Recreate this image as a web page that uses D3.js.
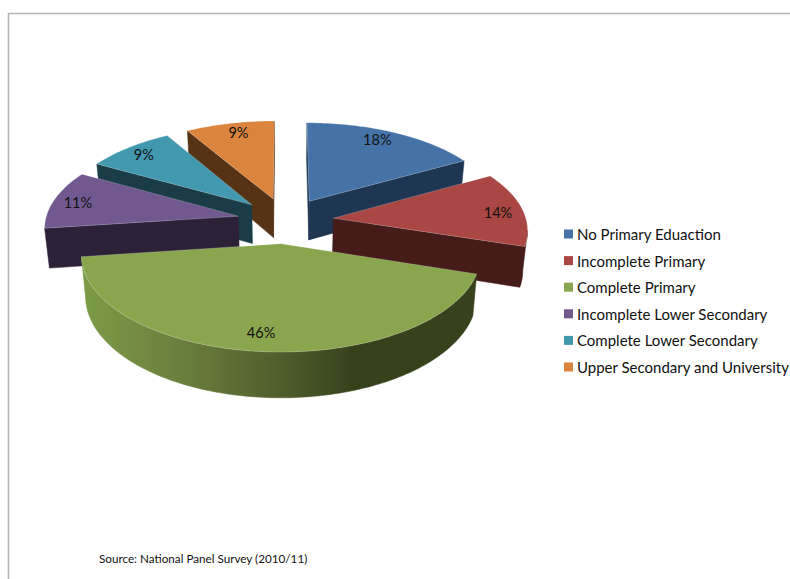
<!DOCTYPE html>
<html>
<head>
<meta charset="utf-8">
<script src="https://cdn.jsdelivr.net/npm/d3@7"></script>
<style>
  html, body { margin: 0; padding: 0; background: #fff; }
  svg { display: block; }
  text { font-family: Lato, "Open Sans", sans-serif; fill: #111; }
</style>
</head>
<body>
<svg id="chart" width="790" height="579"></svg>
<script>
// Survey shares by highest level of education reached
const categories = [
  "No Primary Eduaction",
  "Incomplete Primary",
  "Complete Primary",
  "Incomplete Lower Secondary",
  "Complete Lower Secondary",
  "Upper Secondary and University"
];
const shares = [18, 14, 46, 11, 9, 9];
const topColors = ["#4572a7", "#aa4643", "#89a54e", "#71588f", "#4198af", "#db843d"];
const sideColors = ["#1f3652", "#451c1a", "#38431d", "#2c2137", "#1a3c46", "#573316"];
const sourceNote = "Source: National Panel Survey (2010/11)";

const svg = d3.select("#chart");

// Frame along the top and left of the chart area
svg.append("path")
  .attr("d", "M8.5,579V13.5H790")
  .attr("fill", "none")
  .attr("stroke", "#b4b4b4")
  .attr("stroke-width", 1.6);

// Perspective projection of the tilted pie plane; lower edges narrow slightly toward the centre
const cx = 285.5, cy = 220.5, radiusX = 193, radiusY = 91, perspective = 0.109;
const thickness = 39.5, floorNarrowing = 0.98, explode = 0.25, labelRadius = 0.86;
const scaleAt = v => 1 / (1 + perspective * v);
const project = (u, v) => {
  const s = scaleAt(v);
  return [cx + radiusX * u * s, cy - radiusY * v * s];
};
const projectFloor = (u, v) => {
  const [x, y] = project(u, v);
  return [cx + (x - cx) * floorNarrowing, y + thickness * scaleAt(v)];
};

// Small per-slice label offsets in pixels, keeping each label clear of the slice edge
const labelOffsets = [[-6, -2], [2, 2], [-3, -2], [-2, 1], [-1, -1], [3, -1]];

const color = d3.scaleOrdinal().domain(categories).range(topColors);
const side = d3.scaleOrdinal().domain(categories).range(sideColors);
const arcs = d3.pie().sort(null).value(d => d.value)(
  categories.map((name, i) => ({ name, value: shares[i] }))
);
const line = d3.line();

const rimGradient = svg.append("defs").append("linearGradient")
  .attr("id", "rim-shade")
  .attr("gradientUnits", "userSpaceOnUse")
  .attr("x1", 83).attr("x2", 472).attr("y1", 0).attr("y2", 0);
[[0, "#7d9b47"], [0.3, "#66793a"], [0.52, "#4e5c2b"], [0.69, "#37421c"], [1, "#37421c"]]
  .forEach(([o, c]) => rimGradient.append("stop").attr("offset", o).attr("stop-color", c));

function sliceGeometry(arc) {
  const mid = (arc.startAngle + arc.endAngle) / 2;
  const ox = explode * Math.sin(mid), oy = explode * Math.cos(mid);
  const ground = [[ox, oy]];
  const steps = Math.ceil((arc.endAngle - arc.startAngle) / 0.02);
  d3.range(steps + 1).forEach(i => {
    const a = arc.startAngle + (arc.endAngle - arc.startAngle) * i / steps;
    ground.push([ox + Math.sin(a), oy + Math.cos(a)]);
  });
  return { mid, ox, oy, ground };
}

// Runs of consecutive outline points whose edges travel leftward on screen face the viewer
function visibleRuns(ground) {
  const runs = [];
  let run = null;
  ground.forEach((p, i) => {
    const q = ground[(i + 1) % ground.length];
    if (project(...q)[0] < project(...p)[0]) {
      if (!run) { run = [p]; runs.push(run); }
      run.push(q);
    } else {
      run = null;
    }
  });
  return runs;
}

const slices = arcs
  .map((arc, index) => ({ arc, index, ...sliceGeometry(arc) }))
  .sort((a, b) => b.oy - a.oy);

slices.forEach(({ arc, ground }) => {
  const name = arc.data.name;
  const g = svg.append("g").attr("class", "slice");
  const wallFill = name === "Complete Primary" ? "url(#rim-shade)" : side(name);

  visibleRuns(ground).forEach(run => {
    const wall = run.map(p => project(...p))
      .concat(run.slice().reverse().map(p => projectFloor(...p)));
    g.append("path")
      .attr("d", line(wall) + "Z")
      .attr("fill", wallFill)
      .attr("stroke", wallFill)
      .attr("stroke-width", 0.5);
  });

  // Top face
  g.append("path")
    .attr("d", line(ground.map(p => project(...p))) + "Z")
    .attr("fill", color(name))
    .attr("stroke", "#ffffff")
    .attr("stroke-opacity", 0.3)
    .attr("stroke-width", 0.7);
});

// Percentage labels near the outer edge of each slice
slices.forEach(({ arc, index, mid, ox, oy }) => {
  const [x, y] = project(ox + labelRadius * Math.sin(mid), oy + labelRadius * Math.cos(mid));
  svg.append("text")
    .attr("x", x + labelOffsets[index][0]).attr("y", y + labelOffsets[index][1])
    .attr("text-anchor", "middle")
    .attr("dominant-baseline", "central")
    .attr("font-size", 14.5)
    .text(arc.data.value + "%");
});

// Legend
const legendY = d3.scalePoint().domain(categories).range([234, 367]);
const legend = svg.append("g").attr("class", "legend");
categories.forEach(name => {
  legend.append("rect")
    .attr("x", 564).attr("y", legendY(name) - 4.5)
    .attr("width", 9).attr("height", 9)
    .attr("fill", color(name));
  legend.append("text")
    .attr("x", 577).attr("y", legendY(name))
    .attr("dominant-baseline", "central")
    .attr("font-size", 15)
    .text(name);
});

// Source note
svg.append("text")
  .attr("x", 99).attr("y", 558)
  .attr("dominant-baseline", "central")
  .attr("font-size", 11.7)
  .text(sourceNote);
</script>
</body>
</html>
